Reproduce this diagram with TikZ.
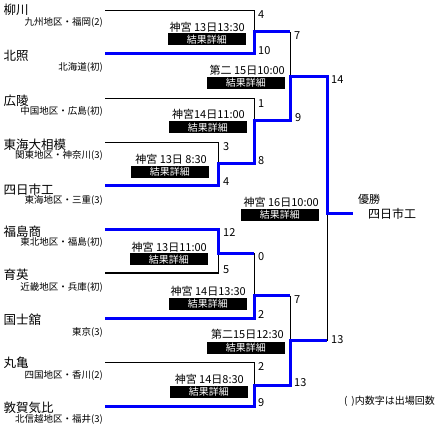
\documentclass[tikz,border=0pt]{standalone}
\usepackage{fontspec}
\usepackage{tikz}
\usetikzlibrary{positioning,calc}
\newfontfamily\jpfont{Noto Sans CJK JP}
\definecolor{winblue}{RGB}{0,0,250}

\begin{document}
\begin{tikzpicture}[x=1pt,y=-1pt,
  team/.style={anchor=west,inner sep=0pt,font=\jpfont\fontsize{12.5}{13}\selectfont},
  area/.style={anchor=east,inner sep=0pt,font=\jpfont\fontsize{9.5}{10}\selectfont},
  score/.style={anchor=west,inner sep=0pt,font=\jpfont\fontsize{11}{12}\selectfont},
  sched/.style={anchor=east,inner sep=0pt,font=\jpfont\fontsize{11}{12}\selectfont},
  resbox/.style={anchor=east,fill=black,text=white,inner sep=0pt,minimum width=78pt,minimum height=12pt,font=\jpfont\fontsize{10}{11}\selectfont},
  lose/.style={line width=1pt,black},
  win/.style={line width=3pt,winblue}]
  \useasboundingbox (0,0) rectangle (441,427);

  \node[team] (yanagawa) at (3.5,10) {柳川};
  \node[area] (yanagawa-a) at (103,22.5) {九州地区・福岡(2)};
  \node[team] (hokusho) at (3.5,56) {北照};
  \node[area] (hokusho-a) at (103,67) {北海道(初)};
  \node[team] (koryo) at (3.5,101) {広陵};
  \node[area] (koryo-a) at (103,111) {中国地区・広島(初)};
  \node[team] (tokai) at (3.5,145) {東海大相模};
  \node[area] (tokai-a) at (103,155.5) {関東地区・神奈川(3)};
  \node[team] (yokkaichi) at (3.5,190) {四日市工};
  \node[area] (yokkaichi-a) at (103,200.5) {東海地区・三重(3)};
  \node[team] (fukushima) at (3.5,232) {福島商};
  \node[area] (fukushima-a) at (103,242.5) {東北地区・福島(初)};
  \node[team] (ikuei) at (3.5,275) {育英};
  \node[area] (ikuei-a) at (103,287) {近畿地区・兵庫(初)};
  \node[team] (kokushikan) at (3.5,320) {国士舘};
  \node[area] (kokushikan-a) at (103,332) {東京(3)};
  \node[team] (marugame) at (3.5,363) {丸亀};
  \node[area] (marugame-a) at (103,375.5) {四国地区・香川(2)};
  \node[team] (tsuruga) at (3.5,408) {敦賀気比};
  \node[area] (tsuruga-a) at (103,419) {北信越地区・福井(3)};

  \coordinate (s1) at (105,11);
  \coordinate (s2) at (105,53.5);
  \coordinate (s3) at (105,99);
  \coordinate (s4) at (105,143);
  \coordinate (s5) at (105,186);
  \coordinate (s6) at (105,230);
  \coordinate (s7) at (105,273);
  \coordinate (s8) at (105,318.5);
  \coordinate (s9) at (105,362);
  \coordinate (s10) at (105,406);
  \coordinate (m1) at (254,32);
  \coordinate (m2) at (218,164);
  \coordinate (m3) at (254,121);
  \coordinate (m4) at (290,76.5);
  \coordinate (m5) at (218,253.5);
  \coordinate (m6) at (254,295.5);
  \coordinate (m7) at (254,385.5);
  \coordinate (m8) at (290,340.5);
  \coordinate (fin) at (327,213.5);
  \coordinate (champ) at (353,213.5);

  \draw[lose] (s1) -| (m1);
  \draw[lose] (s3) -| (m3);
  \draw[lose] (s4) -| (m2);
  \draw[lose] (s7) -| (m5);
  \draw[lose] (s9) -| (m7);
  \draw[lose] (m1 -| m4) -- (m4);
  \draw[lose] (m5 -| m6) -- (m6);
  \draw[lose] (m6 -| m8) -- (m8);
  \draw[lose] (m8 -| fin) -- (fin);

  \draw[win] (s2) -| (m1) -- (m1 -| m4);
  \draw[win] (s5) -| (m2) -| (m3) -| (m4) -| (fin) -- (champ);
  \draw[win] (s6) -| (m5) -- (m5 -| m6);
  \draw[win] (s8) -| (m6) -- (m6 -| m8);
  \draw[win] (s10) -| (m7) -| (m8) -- (m8 -| fin);

  \node[score] (sc1) at (258,15) {4};
  \node[score] (sc2) at (258,51) {10};
  \node[score] (sc3) at (258,103.5) {1};
  \node[score] (sc4) at (223,147) {3};
  \node[score] (sc5) at (223,182) {4};
  \node[score] (sc6) at (258,160.5) {8};
  \node[score] (sc7) at (294,35.5) {7};
  \node[score] (sc8) at (295,118) {9};
  \node[score] (sc9) at (331,79.5) {14};
  \node[score] (sc10) at (223,233) {12};
  \node[score] (sc11) at (223,270) {5};
  \node[score] (sc12) at (258,257) {0};
  \node[score] (sc13) at (258,314.5) {2};
  \node[score] (sc14) at (258,367) {2};
  \node[score] (sc15) at (258,403) {9};
  \node[score] (sc16) at (294,299.5) {7};
  \node[score] (sc17) at (294,383) {13};
  \node[score] (sc18) at (331,339.5) {13};

  \node[sched] (g1) at (245,27) {神宮 13日13:30};
  \node[resbox] (r1) at (246,39.5) {結果詳細};
  \node[sched] (g2) at (285,70) {第二 15日10:00};
  \node[resbox] (r2) at (285,83) {結果詳細};
  \node[sched] (g3) at (245,114.5) {神宮14日11:00};
  \node[resbox] (r3) at (247,127.5) {結果詳細};
  \node[sched] (g4) at (207,159) {神宮 13日 8:30};
  \node[resbox] (r4) at (209,172) {結果詳細};
  \node[sched] (g5) at (319,202) {神宮 16日10:00};
  \node[resbox] (r5) at (319,215) {結果詳細};
  \node[sched] (g6) at (207,247) {神宮 13日11:00};
  \node[resbox] (r6) at (208,259.5) {結果詳細};
  \node[sched] (g7) at (246,291) {神宮 14日13:30};
  \node[resbox] (r7) at (247,303.5) {結果詳細};
  \node[sched] (g8) at (284,334) {第二15日12:30};
  \node[resbox] (r8) at (285,347.5) {結果詳細};
  \node[sched] (g9) at (244,379) {神宮 14日8:30};
  \node[resbox] (r9) at (248,391.5) {結果詳細};

  \node[team,font=\jpfont\fontsize{11}{12}\selectfont] (yusho) at (358,199.5) {優勝};
  \node[team,font=\jpfont\fontsize{12}{13}\selectfont] (winner) at (368,214) {四日市工};
  \node[area,font=\jpfont\fontsize{10}{11}\selectfont] (note) at (435,401) {(\hspace{4pt})内数字は出場回数};
\end{tikzpicture}
\end{document}
